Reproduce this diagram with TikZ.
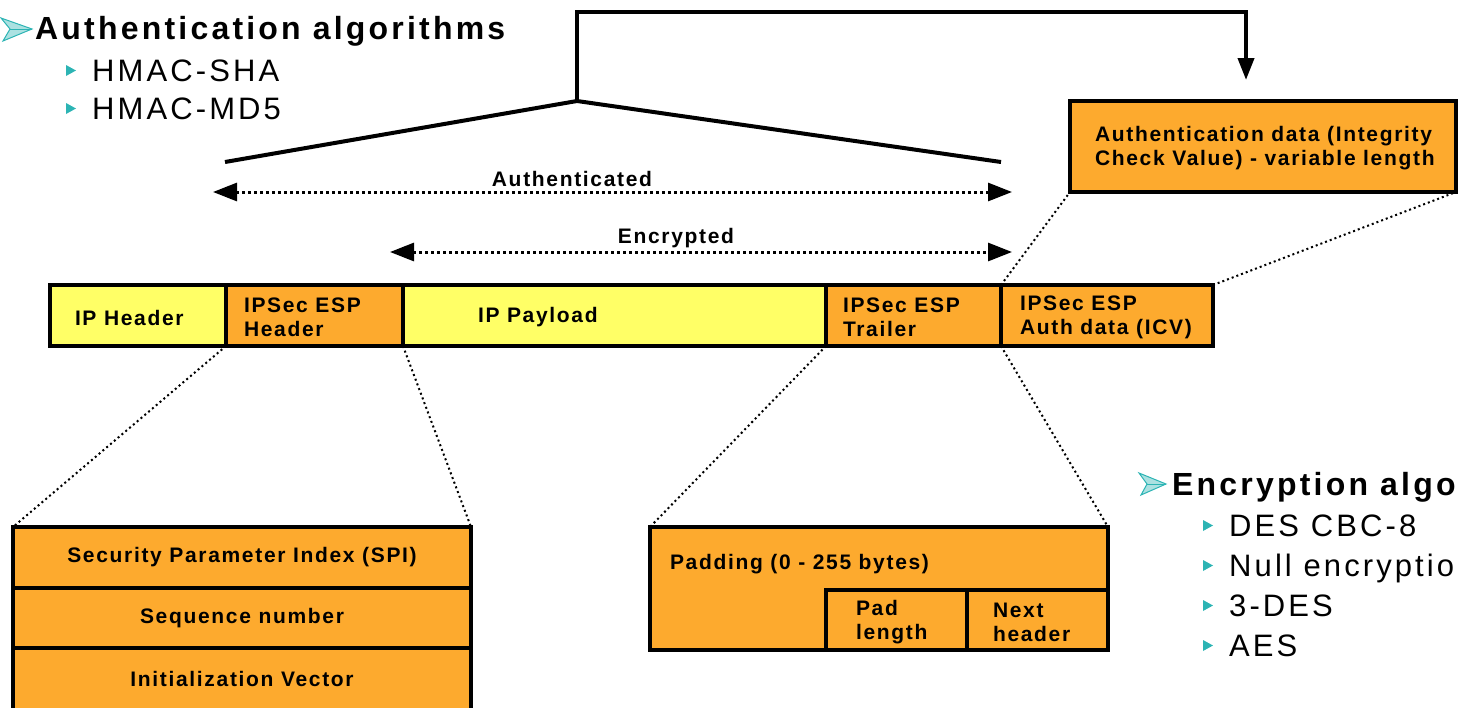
\documentclass[tikz,border=0pt]{standalone}
\usepackage{fontspec}
\setmainfont{Liberation Sans}
\newfontfamily\boxfont[LetterSpace=8]{Liberation Sans}
\newfontfamily\listfont[LetterSpace=10]{Liberation Sans}
\usetikzlibrary{positioning, arrows.meta}
\definecolor{espyellow}{RGB}{255,255,102}
\definecolor{esporange}{RGB}{253,170,46}
\definecolor{bullet}{RGB}{44,180,180}
\tikzstyle{field}=[draw, line width=4pt, inner sep=0pt, outer sep=0pt, anchor=north west, font=\boxfont\bfseries\fontsize{21}{24}\selectfont]
\tikzstyle{lbl}=[inner sep=0pt, outer sep=0pt, align=left, yshift=-2pt, font=\boxfont\bfseries\fontsize{21}{24}\selectfont]
\tikzstyle{head}=[inner sep=0pt, anchor=base west, font=\listfont\bfseries\fontsize{32}{36}\selectfont]
\tikzstyle{item}=[inner sep=0pt, anchor=base west, font=\listfont\fontsize{31}{36}\selectfont]
\tikzstyle{span}=[line width=3pt, dash pattern=on 3pt off 3pt, {Triangle[length=24pt,width=18pt]}-{Triangle[length=24pt,width=18pt]}]
\tikzstyle{zoomline}=[line width=2pt, dash pattern=on 2pt off 3pt]

\begin{document}
\begin{tikzpicture}[x=1pt, y=-1pt]
	\clip (0,0) rectangle (1458,707);
	% the packet
	\node[field, fill=espyellow, minimum width=176, minimum height=61] (iph) at (50,285) {};
	\node[field, fill=esporange, minimum width=177, minimum height=61] (esph) at (226,285) {};
	\node[field, fill=espyellow, minimum width=423, minimum height=61] (payload) at (403,285) {};
	\node[field, fill=esporange, minimum width=175, minimum height=61] (trailer) at (826,285) {};
	\node[field, fill=esporange, minimum width=212, minimum height=61] (icv) at (1001,285) {};
	\node[lbl, right=25pt of iph.west] (iphtxt) {IP Header};
	\node[lbl, right=18pt of esph.west] (esphtxt) {IPSec ESP\\Header};
	\node[lbl, right=75pt of payload.west] (payloadtxt) {IP Payload};
	\node[lbl, right=17pt of trailer.west] (trailertxt) {IPSec ESP\\Trailer};
	\node[lbl, right=19pt of icv.west] (icvtxt) {IPSec ESP\\Auth data (ICV)};

	% authentication data
	\node[field, fill=esporange, minimum width=386, minimum height=91] (icvbox) at (1070,101) {};
	\node[lbl, right=25pt of icvbox.west] (icvboxtxt) {Authentication data (Integrity\\Check Value) - variable length};
	\draw[zoomline] (icv.north west) -- (icvbox.south west);
	\draw[zoomline] (icv.north east) -- (icvbox.south east);

	% bracket and arrow
	\coordinate (brL) at (225,162);
	\coordinate (apex) at (577,101);
	\coordinate (brR) at (1001,162);
	\coordinate (top) at (577,12);
	\coordinate (icvin) at (1246,80);
	\draw[line width=4pt] (brL) -- (apex) -- (brR);
	\draw[line width=4pt, -{Triangle[length=22pt,width=16pt]}] (apex) -- (top) -| (icvin);

	% spans
	\coordinate (authL) at (213,192);
	\coordinate (authR) at (1012,192);
	\coordinate (encL) at (390,252);
	\coordinate (encR) at (1012,252);
	\draw[span] (authL) -- (authR);
	\draw[span] (encL) -- (encR);
	\node[lbl] (authtxt) at (572,177) {Authenticated};
	\node[lbl] (enctxt) at (676,236) {Encrypted};

	% ESP header fields
	\node[field, fill=esporange, minimum width=458, minimum height=61] (spi) at (13,527) {Security Parameter Index (SPI)};
	\node[field, fill=esporange, minimum width=458, minimum height=60] (seq) at (13,588) {Sequence number};
	\node[field, fill=esporange, minimum width=458, minimum height=62] (iv) at (13,648) {Initialization Vector};
	\draw[zoomline] (esph.south west) -- (spi.north west);
	\draw[zoomline] (esph.south east) -- (spi.north east);

	% ESP trailer fields
	\node[field, fill=esporange, minimum width=458, minimum height=123] (padbox) at (650,527) {};
	\node[field, fill=esporange, minimum width=141, minimum height=60] (padlen) at (826,590) {};
	\node[field, fill=esporange, minimum width=141, minimum height=60] (nexthdr) at (967,590) {};
	\node[lbl, anchor=west] (padtxt) at (670,562) {Padding (0 - 255 bytes)};
	\node[lbl, right=30pt of padlen.west] (padlentxt) {Pad\\length};
	\node[lbl, right=26pt of nexthdr.west] (nexthdrtxt) {Next\\header};
	\draw[zoomline] (trailer.south west) -- (padbox.north west);
	\draw[zoomline] (trailer.south east) -- (padbox.north east);

	% algorithm lists
	\filldraw[draw=bullet, fill=bullet!40, line width=1pt] (1,18) -- (32,29) -- (3,41) -- (10,29) -- cycle;
	\draw[bullet, line width=1pt] (10,29) -- (32,29);
	\node[head] (authalg) at (35,39) {Authentication algorithms};
	\fill[bullet] (66,65) -- (76,70.5) -- (66,76) -- cycle;
	\fill[bullet] (66,103) -- (76,108.5) -- (66,114) -- cycle;
	\node[item] (sha) at (92,81) {HMAC-SHA};
	\node[item] (md5) at (92,119) {HMAC-MD5};

	\filldraw[draw=bullet, fill=bullet!40, line width=1pt] (1139,473) -- (1166,484) -- (1141,495) -- (1147,484) -- cycle;
	\draw[bullet, line width=1pt] (1147,484) -- (1166,484);
	\node[head] (encalg) at (1172,495) {Encryption algorithms};
	\foreach \txt [count=\i] in {DES CBC-8, Null encryption, 3-DES, AES} {
		\fill[bullet] (1203,520+40*\i-40) -- (1213,525.5+40*\i-40) -- (1203,531+40*\i-40) -- cycle;
		\node[item] (enc\i) at (1229,536+40*\i-40) {\txt};
	}
\end{tikzpicture}
\end{document}
